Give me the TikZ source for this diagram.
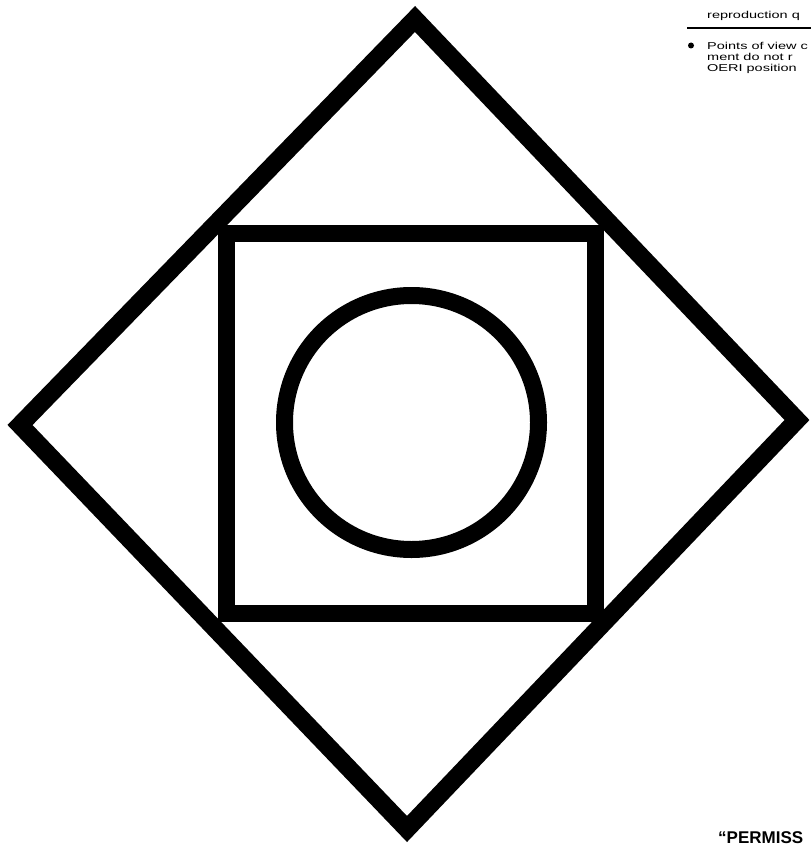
\documentclass[tikz,border=0pt]{standalone}
\usepackage{fontspec}
\setmainfont{Liberation Sans}
\begin{document}
\begin{tikzpicture}[x=1pt,y=-1pt,
  heavy/.style={draw=black,line width=#1,miter limit=10},
  small/.style={anchor=base west,inner sep=0pt,text height=7.5pt,text depth=2pt,font=\fontsize{10}{10.5}\selectfont\addfontfeature{FakeStretch=1.45}}]
\useasboundingbox (0,0) rectangle (811,845);
\fill[white] (0,0) rectangle (811,845);
\begin{scope}
\clip (0,0) rectangle (811,845);
% diamond
\draw[heavy=18] (415,19) -- (797,420) -- (407,829) -- (20,425) -- cycle;
% square
\draw[heavy=17] (226.5,233.5) rectangle (595.5,613.5);
% circle
\draw[heavy=17] (411.5,422.5) circle[radius=127];
% top-right text
\node[small] (repro) at (707,19) {reproduction q};
\draw[line width=1.4] (687,28) -- (811,28);
\fill (691,45.5) circle[radius=3];
\node[small] (pv1) at (707,50) {Points of view c};
\node[small] (pv2) at (707,61) {ment do not r};
\node[small] (pv3) at (707,72) {OERI position};
% bottom-right text
\node[anchor=base west,inner sep=0pt,font=\fontsize{17}{17}\bfseries] (perm) at (718,843) {“PERMISS};
\end{scope}
\end{tikzpicture}
\end{document}
